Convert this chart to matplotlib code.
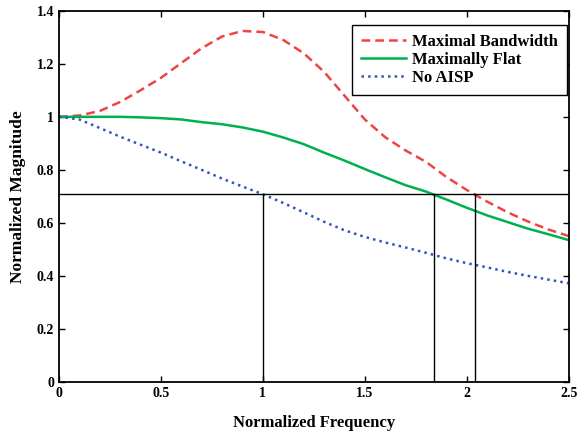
import matplotlib.pyplot as plt

plt.rcParams['font.family'] = ['Liberation Serif', 'DejaVu Serif']
plt.rcParams['font.weight'] = 'bold'

# Frecuencia normalizada y respuestas en magnitud
freq = [0, 0.1, 0.2, 0.3, 0.4, 0.5, 0.6, 0.7, 0.8, 0.9, 1.0, 1.1, 1.2,
        1.3, 1.4, 1.5, 1.6, 1.7, 1.8, 1.9, 2.0, 2.1, 2.2, 2.3, 2.4, 2.5]
max_bandwidth = [1.0, 1.005, 1.022, 1.056, 1.10, 1.147, 1.203, 1.259, 1.303,
                 1.324, 1.32, 1.29, 1.24, 1.17, 1.08, 0.99, 0.923, 0.873,
                 0.83, 0.773, 0.724, 0.68, 0.64, 0.605, 0.575, 0.55]
max_flat = [1.0, 1.0, 1.0, 1.0, 0.998, 0.995, 0.99, 0.98, 0.972, 0.96, 0.944,
            0.922, 0.897, 0.865, 0.835, 0.803, 0.772, 0.742, 0.718, 0.688,
            0.657, 0.628, 0.603, 0.578, 0.557, 0.535]
no_aisp = [1.0, 0.99, 0.958, 0.925, 0.895, 0.865, 0.832, 0.8, 0.767, 0.737,
           0.708, 0.675, 0.64, 0.604, 0.572, 0.547, 0.526, 0.507, 0.487,
           0.466, 0.448, 0.432, 0.415, 0.4, 0.386, 0.372]

# Nivel de -3 dB y frecuencias de corte
level_3db = 0.707
cutoffs = [1.0, 1.838, 2.04]

xticks = [0, 0.5, 1, 1.5, 2, 2.5]
xtick_labels = ['0', '0.5', '1', '1.5', '2', '2.5']
yticks = [0, 0.2, 0.4, 0.6, 0.8, 1.0, 1.2, 1.4]
ytick_labels = ['0', '0.2', '0.4', '0.6', '0.8', '1', '1.2', '1.4']

fig = plt.figure(figsize=(5.78, 4.32), dpi=100)
ax = fig.add_axes([0.102, 0.116, 0.882, 0.859])

ax.plot(freq, max_bandwidth, '--', color='#ee4444', lw=1.8, dashes=(3.5, 2),
        label='Maximal Bandwidth')
ax.plot(freq, max_flat, '-', color='#00b050', lw=1.8, label='Maximally Flat')
ax.plot(freq, no_aisp, ':', color='#3355bb', lw=1.8, label='No AISP')

ax.axhline(level_3db, color='black', lw=1.0)
for fc in cutoffs:
    ax.plot([fc, fc], [0, level_3db], color='black', lw=1.0)

ax.set_xlim(0, 2.5)
ax.set_ylim(0, 1.4)
ax.set_xticks(xticks)
ax.set_xticklabels(xtick_labels)
ax.set_yticks(yticks)
ax.set_yticklabels(ytick_labels)
ax.tick_params(direction='in', top=True, right=True, labelsize=10, length=4,
               width=1.0)
for s in ax.spines.values():
    s.set_linewidth(1.3)

ax.set_xlabel('Normalized Frequency', fontsize=12, fontweight='bold', labelpad=11)
ax.set_ylabel('Normalized Magnitude', fontsize=12.5, fontweight='bold', labelpad=8)

leg = ax.legend(loc='upper right', fontsize=12, fancybox=False, framealpha=1,
                edgecolor='black', handlelength=2.7, handletextpad=0.35,
                borderpad=0.55, labelspacing=0.12, borderaxespad=0,
                bbox_to_anchor=(0.996, 0.963))
leg.get_frame().set_linewidth(1.0)

plt.savefig('out.png', dpi=100)
plt.close()
